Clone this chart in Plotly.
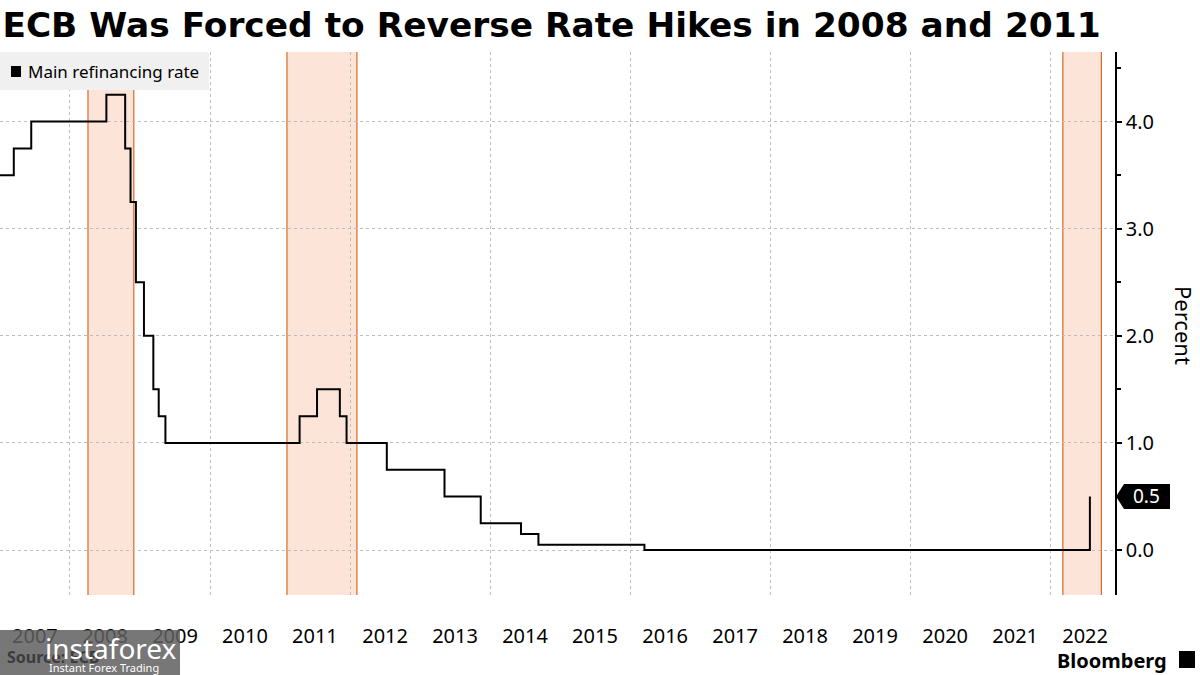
import plotly.graph_objects as go

# ---- data ----
change_dates = ["2007-01-01", "2007-03-14", "2007-06-13", "2008-07-09", "2008-10-15",
                "2008-11-12", "2008-12-10", "2009-01-21", "2009-03-11", "2009-04-08",
                "2009-05-13", "2011-04-13", "2011-07-13", "2011-11-09", "2011-12-14",
                "2012-07-11", "2013-05-08", "2013-11-13", "2014-06-11", "2014-09-10",
                "2016-03-16", "2022-07-27"]
rates = [3.5, 3.75, 4.0, 4.25, 3.75, 3.25, 2.5, 2.0, 1.5, 1.25, 1.0, 1.25, 1.5,
         1.25, 1.0, 0.75, 0.5, 0.25, 0.15, 0.05, 0.0, 0.5]

shade_starts = ["2008-04-04", "2011-02-06", "2022-03-08"]
shade_ends = ["2008-11-29", "2012-02-06", "2022-09-25"]

years = list(range(2007, 2023))
year_labels = [str(y) for y in years]
grid_years = list(range(2008, 2023, 2))
y_ticks = [0.0, 1.0, 2.0, 3.0, 4.0]
series_name = "Main refinancing rate"

x_range = ["2007-01-01", "2022-12-05"]
y_range = [-0.42, 4.65]

FONT = "Noto Sans"
SHADE_FILL = "#fde4d8"
SHADE_LINE = "#d9692a"

fig = go.Figure()

fig.add_trace(go.Scatter(
    x=change_dates, y=rates, mode="lines", name=series_name,
    line=dict(color="black", width=2, shape="hv"),
    showlegend=False, hoverinfo="skip"))

shapes = []
for s, e in zip(shade_starts, shade_ends):
    shapes.append(dict(type="rect", xref="x", yref="paper", x0=s, x1=e, y0=0, y1=1,
                       fillcolor=SHADE_FILL, line=dict(width=0), layer="below"))
    for xv in (s, e):
        shapes.append(dict(type="line", xref="x", yref="paper", x0=xv, x1=xv, y0=0, y1=1,
                           line=dict(color=SHADE_LINE, width=1.2), layer="below"))

plot_h = 675 - 52 - 80
plot_w = 1200 - 85


def px(p):
    return p / plot_w


def py(p):
    return (675 - 80 - p) / plot_h


# legend box (drawn as shapes + text)
shapes.append(dict(type="rect", xref="paper", yref="paper", x0=px(0), x1=px(209),
                   y0=py(90), y1=py(52), fillcolor="#f0f0f0", line=dict(width=0), layer="above"))
shapes.append(dict(type="rect", xref="paper", yref="paper", x0=px(11), x1=px(21),
                   y0=py(77), y1=py(66), fillcolor="black", line=dict(width=0), layer="above"))

# last-value tag
last_val = rates[-1]
yp = (last_val - y_range[0]) / (y_range[1] - y_range[0])
hh = 12.5 / plot_h
tip = 1.0 + px(1)
bx0 = 1.0 + px(9)
bx1 = 1.0 + px(55)
shapes.append(dict(type="path", xref="paper", yref="paper",
                   path=f"M {tip},{yp} L {bx0},{yp+hh} L {bx1},{yp+hh} L {bx1},{yp-hh} L {bx0},{yp-hh} Z",
                   fillcolor="black", line=dict(width=0), layer="above"))

# watermark box
shapes.append(dict(type="rect", xref="paper", yref="paper", x0=0, x1=px(180),
                   y0=py(676), y1=py(630), fillcolor="rgba(95,95,95,0.85)",
                   line=dict(width=0), layer="above"))
# bloomberg icon
shapes.append(dict(type="rect", xref="paper", yref="paper", x0=px(1179), x1=px(1195),
                   y0=py(668), y1=py(651), fillcolor="black", line=dict(width=0), layer="above"))

annotations = [
    dict(text=series_name, xref="paper", yref="paper", x=px(26), y=py(71),
         showarrow=False, font=dict(family=FONT, size=17, color="black"),
         xanchor="left", yanchor="middle"),
    dict(text=f"{last_val:.1f}", xref="paper", yref="paper", x=(bx0 + bx1) / 2, y=yp,
         showarrow=False, font=dict(family=FONT, size=19, color="white"),
         xanchor="center", yanchor="middle"),
    dict(text="Percent", xref="paper", yref="paper", x=px(1184), y=py(325),
         textangle=90, showarrow=False, font=dict(family=FONT, size=22, color="black"),
         xanchor="center", yanchor="middle"),
    dict(text="<b>Source: ECB</b>", xref="paper", yref="paper", x=px(5), y=py(657),
         showarrow=False, font=dict(family=FONT, size=16, color="#3c3c3c"),
         xanchor="left", yanchor="middle"),
    dict(text="instaforex", xref="paper", yref="paper", x=px(43), y=py(648),
         showarrow=False, font=dict(family=FONT, size=28, color="white"),
         xanchor="left", yanchor="middle"),
    dict(text="Instant Forex Trading", xref="paper", yref="paper", x=px(47), y=py(667),
         showarrow=False, font=dict(family=FONT, size=11, color="white"),
         xanchor="left", yanchor="middle"),
    dict(text="<b>Bloomberg</b>", xref="paper", yref="paper", x=px(1169), y=py(660),
         showarrow=False, font=dict(family=FONT, size=20, color="black"),
         xanchor="right", yanchor="middle"),
]

fig.update_layout(
    width=1200, height=675,
    margin=dict(l=0, r=85, t=52, b=80, autoexpand=False),
    paper_bgcolor="white", plot_bgcolor="white",
    showlegend=False,
    title=dict(text="<b>ECB Was Forced to Reverse Rate Hikes in 2008 and 2011</b>",
               x=0.002, xanchor="left", xref="container",
               y=1 - 25 / 675, yanchor="middle", yref="container",
               font=dict(family="DejaVu Sans", size=34.4, color="black")),
    shapes=shapes, annotations=annotations,
    xaxis=dict(
        type="date", range=x_range,
        tickmode="array",
        tickvals=[f"{y}-07-02" for y in years], ticktext=year_labels,
        ticks="", showline=False, showgrid=False, zeroline=False,
        tickfont=dict(family=FONT, size=20, color="black"),
        ticklabelstandoff=27,
        minor=dict(tickmode="array", tickvals=[f"{y}-01-01" for y in grid_years],
                   showgrid=True, gridcolor="#bdbdbd", griddash="dot", gridwidth=1,
                   ticks=""),
    ),
    yaxis=dict(
        side="right", range=y_range, tickmode="array", tickvals=y_ticks,
        ticktext=[f"{v:.1f}" for v in y_ticks],
        showline=True, linecolor="black", linewidth=1.5, mirror=False,
        ticks="outside", ticklen=5, tickcolor="black", tickwidth=1.5,
        showgrid=True, gridcolor="#bdbdbd", griddash="dot", gridwidth=1,
        zeroline=False,
        tickfont=dict(family=FONT, size=20, color="black"),
        minor=dict(tickmode="array", tickvals=[0.5, 1.5, 2.5, 3.5, 4.5],
                   ticks="outside", ticklen=4, tickcolor="black", showgrid=False),
    ),
)

fig.write_html("out.html", config={"displayModeBar": False},
               post_script="document.body.style.margin='0';document.body.style.overflow='hidden';")
